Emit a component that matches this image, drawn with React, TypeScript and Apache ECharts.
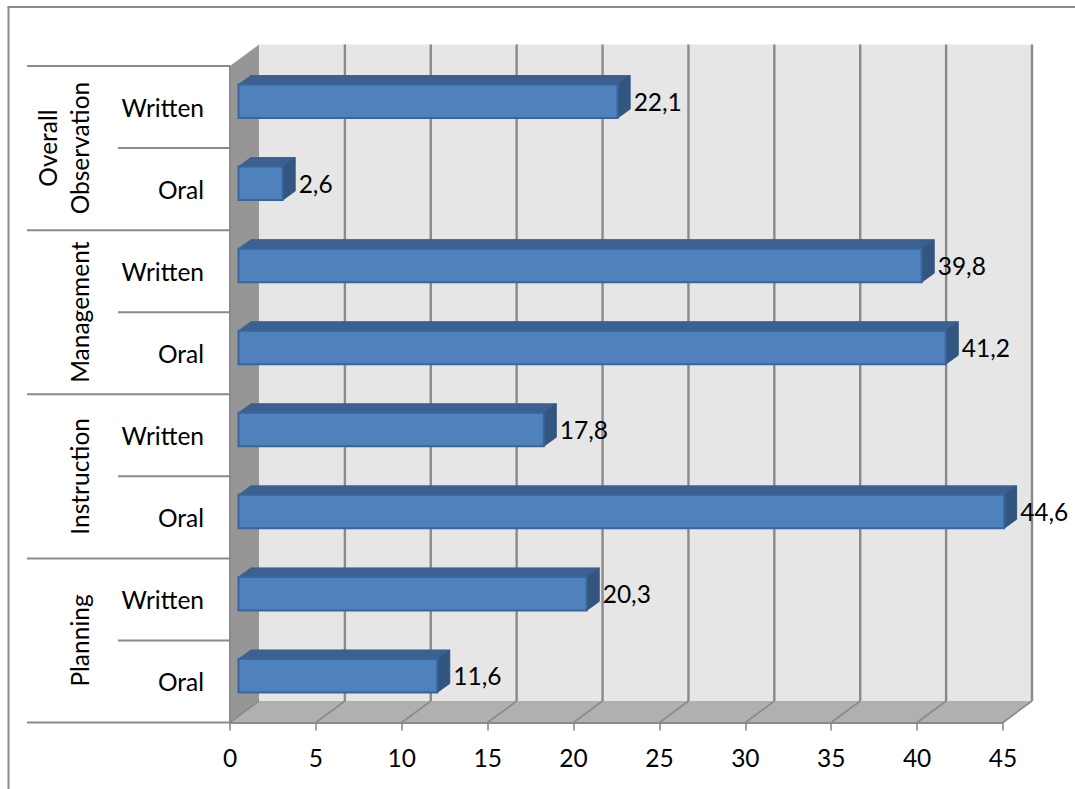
import React, { useEffect, useRef } from "react";
import * as echarts from "echarts";

const slotLabels = ["Oral", "Written", "Oral", "Written", "Oral", "Written", "Oral", "Written"];
const barValues = [11.6, 20.3, 44.6, 17.8, 41.2, 39.8, 2.6, 22.1];
const groupLabels = ["Planning", "Instruction", "Management", "Overall\nObservation"];
const xTicks = [0, 5, 10, 15, 20, 25, 30, 35, 40, 45];

const FONT = "Lato";
const FONT_SIZE = 24.5;
const LINE = "#8a8a8a";
const DX = 29;
const DY = 21.5;

function wallsItem(_p: any, api: any) {
  const tl = api.coord([0, 7]);
  const half = api.size([0, 1])[1] / 2;
  const br = api.coord([45, 0]);
  const top = tl[1] - half;
  const bottom = br[1] + half;
  const left = tl[0];
  const right = br[0];
  return {
    type: "group",
    children: [
      { type: "rect", shape: { x: left + DX, y: top - DY, width: right - left, height: bottom - top }, style: { fill: "#e6e6e6" } },
      { type: "polygon", shape: { points: [[left, top], [left + DX, top - DY], [left + DX, bottom - DY], [left, bottom]] }, style: { fill: "#969696" } },
      { type: "polygon", shape: { points: [[left, bottom], [left + DX, bottom - DY], [right + DX, bottom - DY], [right, bottom]] }, style: { fill: "#b0b0b0" } },
    ],
  };
}

function gridItem(_p: any, api: any) {
  const t = api.value(0);
  const x = api.coord([t, 0])[0];
  const half = api.size([0, 1])[1] / 2;
  const bottom = api.coord([t, 0])[1] + half;
  const top = api.coord([t, 7])[1] - half;
  const style = { stroke: LINE, lineWidth: 2.4 };
  const children: any[] = [
    { type: "line", shape: { x1: x, y1: bottom, x2: x + DX, y2: bottom - DY }, style: { stroke: LINE, lineWidth: 1.6 } },
  ];
  if (t !== 0) {
    children.push({ type: "line", shape: { x1: x + DX, y1: bottom - DY, x2: x + DX, y2: top - DY }, style });
  }
  return { type: "group", children };
}

function separatorItem(_p: any, api: any) {
  const i = api.value(1);
  const c = api.coord([0, i]);
  const half = api.size([0, 1])[1] / 2;
  const x0 = i % 2 === 0 ? 27 : 118;
  const children: any[] = [
    { type: "line", shape: { x1: x0, y1: c[1] + half, x2: c[0], y2: c[1] + half }, style: { stroke: LINE, lineWidth: 2 } },
  ];
  if (i === 7) {
    children.push({ type: "line", shape: { x1: 27, y1: c[1] - half, x2: c[0], y2: c[1] - half }, style: { stroke: LINE, lineWidth: 2 } });
  }
  return { type: "group", children };
}

function barItem(_p: any, api: any) {
  const v = api.value(0);
  const i = api.value(1);
  const end = api.coord([v, i]);
  const start = api.coord([0, i]);
  const x0 = start[0] + 8.5;
  const x1 = end[0] + 8;
  const y0 = end[1] - 22.5;
  const y1 = end[1] + 11;
  const dx = 12.5;
  const dy = 9;
  return {
    type: "group",
    children: [
      { type: "polygon", shape: { points: [[x0, y0], [x0 + dx, y0 - dy], [x1 + dx, y0 - dy], [x1, y0]] }, style: { fill: "#3c6190", stroke: "#3c6190", lineWidth: 1 } },
      { type: "polygon", shape: { points: [[x1, y0], [x1 + dx, y0 - dy], [x1 + dx, y1 - dy], [x1, y1]] }, style: { fill: "#32567f", stroke: "#32567f", lineWidth: 1 } },
      { type: "rect", shape: { x: x0, y: y0, width: x1 - x0, height: y1 - y0 }, style: { fill: "#4f81bd", stroke: "#38659b", lineWidth: 2 } },
      {
        type: "text",
        style: {
          text: String(v).replace(".", ","),
          x: x1 + 16,
          y: end[1] - 6,
          fill: "#000000",
          font: `${FONT_SIZE}px ${FONT}`,
          align: "left",
          verticalAlign: "middle",
        },
      },
    ],
  };
}

function groupItem(params: any, api: any) {
  const g = api.value(1);
  const a = api.coord([0, g * 2]);
  const b = api.coord([0, g * 2 + 1]);
  const text = groupLabels[params.dataIndex];
  const twoLines = text.includes("\n");
  return {
    type: "text",
    x: twoLines ? 63 : 79.5,
    y: (a[1] + b[1]) / 2,
    rotation: Math.PI / 2,
    style: {
      text,
      fill: "#000000",
      font: `${FONT_SIZE}px ${FONT}`,
      lineHeight: 32,
      align: "center",
      verticalAlign: "middle",
    },
  };
}

export default function App() {
  const ref = useRef<HTMLDivElement>(null);
  useEffect(() => {
    const chart = echarts.init(ref.current!, undefined, { renderer: "svg" });
    chart.setOption({
      animation: false,
      backgroundColor: "#ffffff",
      textStyle: { fontFamily: FONT },
      grid: { left: 230, top: 66, width: 773, height: 656.5, containLabel: false },
      xAxis: {
        type: "value",
        min: 0,
        max: 45,
        interval: 5,
        z: 6,
        splitLine: { show: false },
        axisLine: { show: true, lineStyle: { color: LINE, width: 2 } },
        axisTick: { show: true, length: 8, lineStyle: { color: LINE, width: 1.6 } },
        axisLabel: {
          color: "#000000",
          fontSize: FONT_SIZE,
          fontFamily: FONT,
          margin: 22,
          formatter: (v: number) => (xTicks.includes(v) ? String(v) : ""),
        },
      },
      yAxis: {
        type: "category",
        data: slotLabels,
        z: 6,
        splitLine: { show: false },
        axisLine: { show: true, lineStyle: { color: LINE, width: 2 } },
        axisTick: { show: false },
        axisLabel: {
          color: "#000000",
          fontSize: FONT_SIZE,
          fontFamily: FONT,
          margin: 26,
          interval: 0,
        },
      },
      series: [
        { type: "custom", z: 1, silent: true, renderItem: wallsItem, data: [[0, 0]], encode: { x: 0, y: 1 } },
        { type: "custom", z: 2, silent: true, renderItem: gridItem, data: xTicks.map((t) => [t, 0]), encode: { x: 0, y: 1 } },
        { type: "custom", z: 7, silent: true, renderItem: separatorItem, data: slotLabels.map((_, i) => [0, i]), encode: { x: 0, y: 1 } },
        { type: "custom", z: 8, silent: true, renderItem: groupItem, data: groupLabels.map((_, g) => [0, g]), encode: { x: 0 } },
        { type: "custom", z: 9, silent: true, renderItem: barItem, data: barValues.map((v, i) => [v, i]), encode: { x: 0, y: 1 } },
      ],
      graphic: [
        { type: "line", z: 10, shape: { x1: 7.5, y1: 7, x2: 1075, y2: 7 }, style: { stroke: "#8c8c8c", lineWidth: 2 } },
        { type: "line", z: 10, shape: { x1: 8.5, y1: 7, x2: 8.5, y2: 789 }, style: { stroke: "#8c8c8c", lineWidth: 2 } },
      ],
    });
    return () => chart.dispose();
  }, []);
  return (
    <div
      ref={ref}
      style={{ position: "absolute", left: 0, top: 0, width: 1075, height: 789 }}
    />
  );
}
